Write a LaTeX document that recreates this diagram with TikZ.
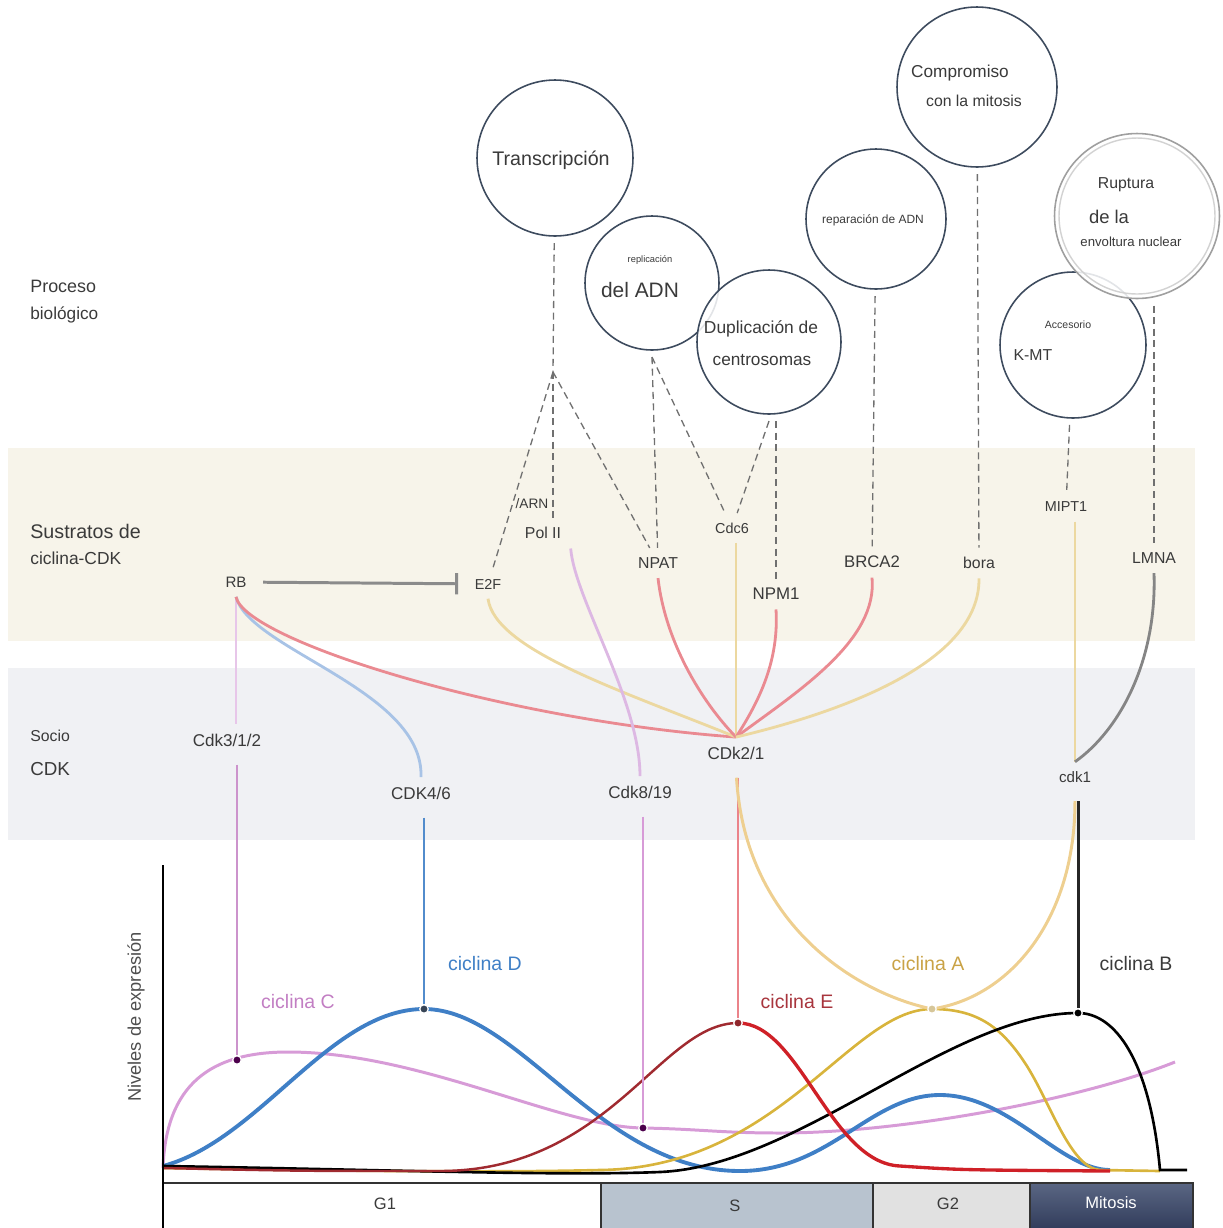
\documentclass[tikz,border=0pt]{standalone}
\usepackage{fontspec}
\setmainfont{Liberation Sans}
\usetikzlibrary{arrows.meta}
\definecolor{cfrm}{HTML}{3D4B5E}
\definecolor{ctxt}{HTML}{3A3A3A}
\definecolor{cdash}{HTML}{707070}
\definecolor{cbeige}{HTML}{F7F4EA}
\definecolor{cband}{HTML}{F0F1F4}
\definecolor{lpink}{HTML}{E7C6E9}
\definecolor{lblue}{HTML}{A8C3E6}
\definecolor{lred}{HTML}{EA8A91}
\definecolor{ltan}{HTML}{ECD8A0}
\definecolor{lpurp}{HTML}{DDB8E3}
\definecolor{lgray}{HTML}{858585}
\definecolor{cC}{HTML}{D79BD7}
\definecolor{cD}{HTML}{3F7FC6}
\definecolor{cEl}{HTML}{A02A30}
\definecolor{cEr}{HTML}{CF2027}
\definecolor{cA}{HTML}{D8B43C}
\definecolor{tC}{HTML}{C27EC3}
\definecolor{tE}{HTML}{A8353D}
\definecolor{tA}{HTML}{C9A245}
\definecolor{cS}{HTML}{B8C3CF}
\definecolor{cG}{HTML}{E1E1E1}
\definecolor{cMa}{HTML}{5A6683}
\definecolor{cMb}{HTML}{2C3756}
\tikzset{
  proc/.style={circle,draw=cfrm,line width=0.9pt,fill=white,fill opacity=0.85,outer sep=4pt,inner sep=0pt},
  ptxt/.style={text=ctxt,inner sep=0pt},
  lefttxt/.style={text=ctxt,inner sep=0pt,anchor=west},
  sub/.style={text=ctxt,inner sep=1.5pt,outer sep=4pt,font=\fontsize{9}{11}\selectfont},
  subs/.style={sub,font=\fontsize{8.2}{10}\selectfont},
  cdk/.style={sub,font=\fontsize{9.7}{11}\selectfont},
  dline/.style={cdash,line width=0.75pt,dash pattern=on 4pt off 2.6pt},
  link/.style={line width=1.6pt},
  downlink/.style={line width=1.7pt,shorten <=5pt},
  peak/.style={circle,fill=#1,draw=white,line width=0.7pt,inner sep=0pt,minimum size=0.17cm},
  cyc/.style={font=\fontsize{11.1}{13}\selectfont,inner sep=0pt},
  phs/.style={font=\fontsize{9.4}{11}\selectfont,text=ctxt,inner sep=0pt},
}
\begin{document}
\begin{tikzpicture}[x=0.02cm,y=-0.02cm]
\useasboundingbox (0,0) rectangle (1223,1228);
\fill[cbeige] (8,448) rectangle (1195,641);
\fill[cband] (8,668) rectangle (1195,840);

\node[proc,minimum size=3.12cm] (tx) at (555,158) {};
\node[proc,minimum size=2.68cm] (rep) at (652,283) {};
\node[proc,minimum size=2.88cm] (dup) at (769,342) {};
\node[proc,minimum size=2.8cm] (repa) at (876,219) {};
\node[proc,minimum size=3.2cm] (comp) at (977,87) {};
\node[proc,minimum size=2.92cm] (acc) at (1073,345) {};
\node[proc,draw=gray!75,minimum size=3.3cm] (rupt) at (1137,216) {};
\draw[gray!35,line width=0.8pt] (rupt.center) circle (1.56cm);

\node[ptxt,font=\fontsize{11.2}{13}\selectfont] (txa) at (551,160) {Transcripción};
\node[ptxt,font=\fontsize{5.3}{6}\selectfont] (repb) at (650,260) {replicación};
\node[ptxt,font=\fontsize{11.9}{14}\selectfont] (repc) at (640,290) {del ADN};
\node[ptxt,font=\fontsize{9.9}{12}\selectfont] (dupa) at (761,329) {Duplicación de};
\node[ptxt,font=\fontsize{9.8}{12}\selectfont] (dupb) at (762,360) {centrosomas};
\node[ptxt,font=\fontsize{6.8}{8}\selectfont] (repaa) at (873,220) {reparación de ADN};
\node[ptxt,font=\fontsize{9.8}{12}\selectfont] (compa) at (960,73) {Compromiso};
\node[ptxt,font=\fontsize{9}{11}\selectfont] (compb) at (974,101) {con la mitosis};
\node[ptxt,font=\fontsize{9}{11}\selectfont] (rupta) at (1126,185) {Ruptura};
\node[ptxt,font=\fontsize{10.5}{12}\selectfont] (ruptb) at (1109,217) {de la};
\node[ptxt,font=\fontsize{7.5}{9}\selectfont] (ruptc) at (1131,242) {envoltura nuclear};
\node[ptxt,font=\fontsize{6}{7}\selectfont] (acca) at (1068,325) {Accesorio};
\node[ptxt,font=\fontsize{9}{11}\selectfont] (accb) at (1033,355) {K-MT};

\node[lefttxt,font=\fontsize{10.2}{12}\selectfont] (la) at (30,286) {Proceso};
\node[lefttxt,font=\fontsize{9.8}{12}\selectfont] (lb) at (30,315) {biológico};
\node[lefttxt,font=\fontsize{11.2}{13}\selectfont] (lc) at (30,531) {Sustratos de};
\node[lefttxt,font=\fontsize{9.9}{12}\selectfont] (ld) at (30,558) {ciclina-CDK};
\node[lefttxt,font=\fontsize{9}{11}\selectfont] (le) at (30,736) {Socio};
\node[lefttxt,font=\fontsize{10.7}{12}\selectfont] (lf) at (30,769) {CDK};

\node[subs,font=\fontsize{8.6}{10}\selectfont] (rb) at (236,582) {RB};
\node[subs] (ef) at (488,584) {E2F};
\node[subs,font=\fontsize{7.8}{9}\selectfont] (arn) at (532,504) {/ARN};
\node[sub] (pol) at (543,533) {Pol II};
\node[sub] (npat) at (658,563) {NPAT};
\node[subs] (cdc) at (732,528) {Cdc6};
\node[sub,font=\fontsize{9.6}{11}\selectfont] (npm) at (776,594) {NPM1};
\node[sub,font=\fontsize{9.5}{11}\selectfont] (brca) at (872,562) {BRCA2};
\node[sub] (bora) at (979,563) {bora};
\node[subs] (mipt) at (1066,507) {MIPT1};
\node[sub] (lmna) at (1154,558) {LMNA};

\node[cdk] (ck312) at (227,740) {Cdk3/1/2};
\node[cdk] (ck46) at (421,793) {CDK4/6};
\node[cdk] (ck819) at (640,792) {Cdk8/19};
\node[cdk] (ck21) at (736,753) {CDk2/1};
\node[subs,font=\fontsize{8.6}{10}\selectfont] (ck1) at (1075,777) {cdk1};

\coordinate (txs) at (553,372);
\draw[dline] (tx) -- (txs);
\draw[dline] (txs) -- (ef);
\draw[dline] (txs) -- (txs |- pol.north);
\draw[dline] (txs) -- (npat);
\foreach \a/\b in {rep.south/npat,rep.south/cdc,dup.south/cdc,repa/brca,comp/bora,acc/mipt}
  \draw[dline] (\a) -- (\b);
\draw[dline] (dup.south -| npm) -- (npm);
\draw[dline] (rupt.south -| lmna) -- (lmna);

\draw[lgray!95,line width=1.7pt,shorten <=4pt,shorten >=4pt,-{Bar[width=12pt]}] (rb) -- (ef);

\draw[link,lpink,line width=1.2pt] (rb) -- (rb |- ck312.north);
\draw[link,lblue] (rb.south) .. controls (250,650) and (424,690) .. (ck46.north);
\draw[link,lred] (rb.south) .. controls (245,640) and (500,720) .. (ck21.north);
\draw[link,ltan] (ef.south) .. controls (495,650) and (620,690) .. (ck21.north);
\draw[link,lpurp] (pol.south east) .. controls (575,600) and (640,700) .. (ck819.north);
\draw[link,lred] (npat.south) .. controls (665,640) and (700,700) .. (ck21.north);
\draw[link,ltan] (cdc.south -| ck21) -- (ck21.north);
\draw[link,lred] (npm.south) .. controls (779,660) and (760,700) .. (ck21.north);
\draw[link,lred] (brca.south) .. controls (878,640) and (800,690) .. (ck21.north);
\draw[link,ltan] (bora.south) .. controls (980,660) and (850,710) .. (ck21.north);
\draw[link,ltan] (mipt.south -| ck1) -- (ck1.north);
\draw[link,lgray] (lmna.south) .. controls (1157,660) and (1120,730) .. (ck1.north);

\draw[cC,line width=1.7pt] (163,1168) .. controls (166,1085) and (210,1052) .. (288,1052)
  .. controls (420,1052) and (560,1127) .. (643,1128)
  .. controls (700,1129) and (720,1133) .. (780,1133)
  .. controls (900,1133) and (1080,1100) .. (1175,1062);
\draw[cD,line width=2.2pt] (163,1166) .. controls (260,1140) and (330,1009) .. (424,1009)
  .. controls (520,1009) and (600,1171) .. (740,1171)
  .. controls (830,1171) and (870,1095) .. (940,1095)
  .. controls (1010,1095) and (1060,1170) .. (1110,1170);
\draw[cA,line width=1.5pt] (163,1168) .. controls (400,1172) and (520,1172) .. (600,1170)
  .. controls (780,1168) and (850,1009) .. (932,1009)
  .. controls (975,1009) and (1000,1025) .. (1025,1063)
  .. controls (1050,1101) and (1070,1168) .. (1100,1170) -- (1160,1171);
\draw[black,line width=1.5pt] (163,1166) .. controls (400,1170) and (560,1176) .. (660,1172)
  .. controls (800,1166) and (950,1013) .. (1078,1013)
  .. controls (1115,1013) and (1150,1060) .. (1160,1170) -- (1187,1170);
\draw[cEl,line width=1.4pt] (163,1168) .. controls (300,1171) .. (440,1171)
  .. controls (610,1171) and (660,1023) .. (738,1023);
\draw[cEr,line width=1.9pt] (738,1023) .. controls (800,1023) and (830,1163) .. (900,1166)
  .. controls (960,1170) .. (1110,1171);

\node[peak=violet!60!black] (pc) at (237,1060) {};
\node[peak=cfrm!90!black] (pd) at (424,1009) {};
\node[peak=violet!60!black] (p8) at (643,1128) {};
\node[peak=cEl!90!black] (pe) at (738,1023) {};
\node[peak=ltan!80!gray] (pa) at (932,1009) {};
\node[peak=black] (pb) at (1078,1013) {};

\draw[downlink,cC!95!black] (ck312.south -| pc) -- (pc);
\draw[downlink,cD!90] (ck46.south -| pd) -- (pd);
\draw[downlink,cC] (ck819.south -| p8) -- (p8);
\draw[downlink,lred!95!red] (ck21.south -| pe) -- (pe);
\draw[downlink,ltan!90!orange] (ck21.south) .. controls (745,920) and (850,990) .. (pa);
\draw[downlink,ltan!90!orange] (ck1.south) .. controls (1075,920) and (1010,995) .. (pa);
\draw[downlink,black!85] (ck1.south -| pb) -- (pb);

\node[cyc,text=tC] (lcc) at (298,1002) {ciclina C};
\node[cyc,text=cD] (lcd) at (485,964) {ciclina D};
\node[cyc,text=tE] (lce) at (797,1002) {ciclina E};
\node[cyc,text=tA] (lca) at (928,964) {ciclina A};
\node[cyc,text=ctxt] (lcb) at (1136,964) {ciclina B};
\node[rotate=90,text=ctxt!90,font=\fontsize{10.4}{12}\selectfont] (ylab) at (136,1017) {Niveles de expresión};

\draw[black!80,line width=1pt,fill=white] (163,1183) rectangle (601,1235);
\draw[black!80,line width=1pt,fill=cS] (601,1183) rectangle (873,1235);
\draw[black!80,line width=1pt,fill=cG] (873,1183) rectangle (1030,1235);
\draw[black!80,line width=1pt,top color=cMa,bottom color=cMb] (1030,1183) rectangle (1193,1235);
\draw[black,line width=1.2pt] (163,865) -- (163,1235);
\node[phs] (g1) at (385,1204) {G1};
\node[phs] (s) at (735,1206) {S};
\node[phs] (g2) at (948,1204) {G2};
\node[phs,text=white] (mit) at (1111,1203) {Mitosis};
\end{tikzpicture}
\end{document}
